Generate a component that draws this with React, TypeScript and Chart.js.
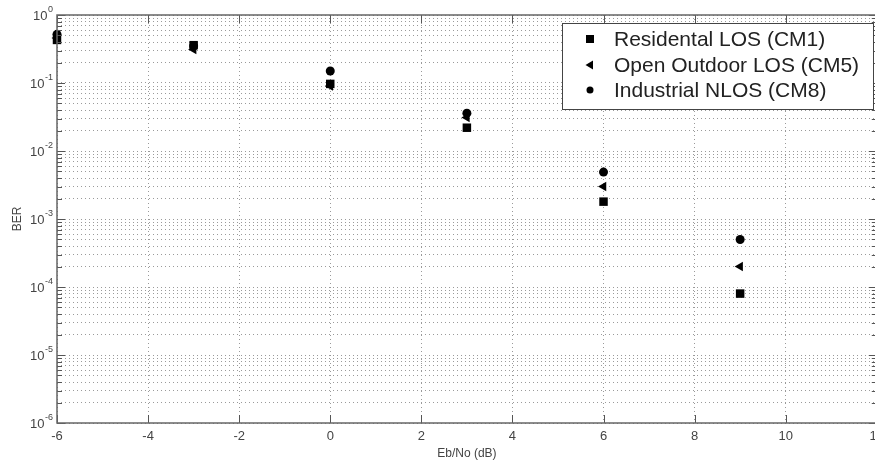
import React, { useEffect, useRef } from 'react';
import { Chart, registerables } from 'chart.js';

Chart.register(...registerables);

const ebNo = [-6, -3, 0, 3, 6, 9];
const berCM1 = [0.43, 0.36, 0.097, 0.022, 0.0018, 0.00008];
const berCM5 = [0.46, 0.31, 0.09, 0.031, 0.003, 0.0002];
const berCM8 = [0.52, 0.35, 0.15, 0.036, 0.0049, 0.0005];
const seriesLabels = ['Residental LOS (CM1)', 'Open Outdoor LOS (CM5)', 'Industrial NLOS (CM8)'];
const seriesStyles = ['rect', 'triangle', 'circle'];
const xTickValues = [-6, -4, -2, 0, 2, 4, 6, 8, 10, 12];
const yDecades = [-6, -5, -4, -3, -2, -1, 0];

const FONT = "'Liberation Sans', Arial, sans-serif";

function isDecade(v: number) {
  const l = Math.log10(v);
  return Math.abs(l - Math.round(l)) < 1e-9;
}

const boxPlugin = {
  id: 'matlabBox',
  afterDraw(chart: any) {
    const { ctx, chartArea } = chart;
    const { left, right, top, bottom } = chartArea;
    const yScale = chart.scales.y;
    const xScale = chart.scales.x;
    ctx.save();
    ctx.strokeStyle = '#555';
    ctx.lineWidth = 1;
    // inward ticks
    yScale.ticks.forEach((t: any) => {
      const y = Math.round(yScale.getPixelForValue(t.value)) + 0.5;
      const len = isDecade(t.value) ? 8 : 5;
      ctx.beginPath();
      ctx.moveTo(left, y);
      ctx.lineTo(left + len, y);
      ctx.moveTo(right, y);
      ctx.lineTo(right - len, y);
      ctx.stroke();
    });
    xScale.ticks.forEach((t: any) => {
      const x = Math.round(xScale.getPixelForValue(t.value)) + 0.5;
      ctx.beginPath();
      ctx.moveTo(x, bottom);
      ctx.lineTo(x, bottom - 8);
      ctx.moveTo(x, top);
      ctx.lineTo(x, top + 8);
      ctx.stroke();
    });
    // box
    ctx.strokeStyle = '#666';
    ctx.lineWidth = 1.5;
    ctx.strokeRect(left, top, right - left, bottom - top);
    ctx.restore();

    // y decade labels with superscript exponents
    ctx.save();
    ctx.fillStyle = '#444';
    ctx.textAlign = 'right';
    ctx.textBaseline = 'alphabetic';
    yScale.ticks.forEach((t: any) => {
      if (!isDecade(t.value)) return;
      const e = String(Math.round(Math.log10(t.value)));
      const y = yScale.getPixelForValue(t.value);
      ctx.font = `9px ${FONT}`;
      const ew = ctx.measureText(e).width;
      const ex = 53;
      ctx.fillText(e, ex, y - 3);
      ctx.font = `13px ${FONT}`;
      ctx.fillText('10', ex - ew - 0.5, y + 5);
    });
    ctx.restore();

    // legend
    const lx = 562, ly = 23, lw = 311, lh = 86;
    ctx.save();
    ctx.fillStyle = '#fff';
    ctx.fillRect(lx, ly, lw, lh);
    ctx.strokeStyle = '#444';
    ctx.lineWidth = 1;
    ctx.strokeRect(lx + 0.5, ly + 0.5, lw, lh);
    ctx.font = `21px ${FONT}`;
    ctx.textBaseline = 'middle';
    ctx.textAlign = 'left';
    const rows = [39, 65, 90];
    chart.data.datasets.forEach((ds: any, i: number) => {
      const y = rows[i];
      const mx = 590;
      ctx.fillStyle = '#000';
      ctx.beginPath();
      if (ds.pointStyle === 'rect') {
        ctx.rect(mx - 4, y - 4, 8, 8);
      } else if (ds.pointStyle === 'triangle') {
        ctx.moveTo(mx - 4.5, y);
        ctx.lineTo(mx + 3, y - 4.5);
        ctx.lineTo(mx + 3, y + 4.5);
        ctx.closePath();
      } else {
        ctx.arc(mx, y, 3.5, 0, Math.PI * 2);
      }
      ctx.fill();
      ctx.fillStyle = '#222';
      ctx.fillText(ds.label, 614, y + 1);
    });
    ctx.restore();
  },
};

export default function App() {
  const ref = useRef<HTMLCanvasElement | null>(null);
  useEffect(() => {
    if (!ref.current) return;
    const mk = (vals: number[]) => ebNo.map((x, i) => ({ x, y: vals[i] }));
    const all = [berCM1, berCM5, berCM8];
    const chart = new Chart(ref.current, {
      type: 'scatter',
      data: {
        datasets: all.map((vals, i) => ({
          label: seriesLabels[i],
          data: mk(vals),
          pointStyle: seriesStyles[i] as any,
          rotation: seriesStyles[i] === 'triangle' ? -90 : 0,
          pointRadius: seriesStyles[i] === 'rect' ? 6 : seriesStyles[i] === 'triangle' ? 5.5 : 4.5,
          backgroundColor: '#000',
          borderColor: '#000',
          borderWidth: 0,
          clip: false as any,
        })),
      },
      options: {
        responsive: false,
        animation: false,
        layout: { padding: { top: 15, right: 11, left: 0, bottom: 0 } },
        plugins: {
          legend: { display: false },
          tooltip: { enabled: false },
        },
        scales: {
          x: {
            type: 'linear',
            min: -6,
            max: 12,
            afterBuildTicks: (scale: any) => {
              scale.ticks = xTickValues.map((v) => ({ value: v }));
            },
            afterFit: (scale: any) => {
              scale.height = 38;
            },
            grid: {
              drawTicks: false,
              color: '#9a9a9a',
              lineWidth: 1,
            },
            border: { display: false, dash: [1, 3] },
            ticks: {
              padding: 6,
              color: '#444',
              font: { family: FONT, size: 13 },
              maxRotation: 0,
              autoSkip: false,
            },
            title: {
              display: true,
              text: 'Eb/No (dB)',
              color: '#444',
              font: { family: FONT, size: 12 },
              padding: { top: 5, bottom: 0 },
            },
          },
          y: {
            type: 'logarithmic',
            min: 1e-6,
            max: 1,
            afterBuildTicks: (scale: any) => {
              const ticks: any[] = [];
              yDecades.forEach((e) => {
                if (e === 0) {
                  ticks.push({ value: 1 });
                  return;
                }
                for (let m = 1; m <= 9; m++) ticks.push({ value: m * Math.pow(10, e) });
              });
              scale.ticks = ticks;
            },
            afterFit: (scale: any) => {
              scale.width = 57;
            },
            grid: {
              drawTicks: false,
              color: '#9a9a9a',
              lineWidth: 1,
            },
            border: { display: false, dash: [1, 3] },
            ticks: {
              padding: 5,
              color: '#444',
              font: { family: FONT, size: 12 },
              autoSkip: false,
              callback: () => '',
            },
            title: {
              display: true,
              text: 'BER',
              color: '#444',
              font: { family: FONT, size: 12 },
              padding: { top: 10, bottom: 0 },
            },
          },
        },
      },
      plugins: [boxPlugin],
    } as any);
    return () => chart.destroy();
  }, []);

  return (
    <div style={{ position: 'fixed', left: 0, top: 0, width: 875, height: 461, overflow: 'hidden', background: '#fff' }}>
      <canvas ref={ref} width={890} height={461} style={{ display: 'block' }} />
    </div>
  );
}
